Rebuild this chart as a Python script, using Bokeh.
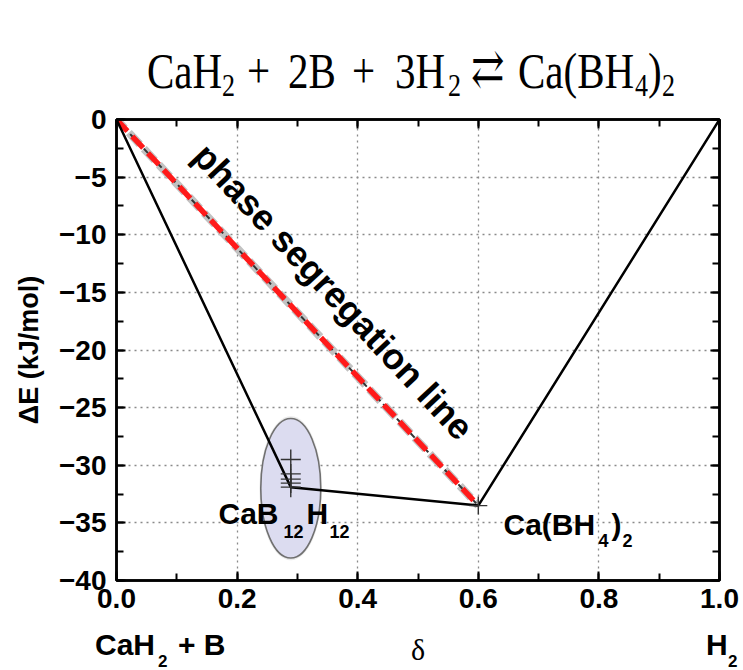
from bokeh.plotting import figure
from bokeh.layouts import column
from bokeh.models import (Range1d, Label, LinearAxis, SingleIntervalTicker, NumeralTickFormatter,
                          CustomJSTickFormatter, Div)
from bokeh.embed import file_html
from bokeh.resources import INLINE

# ---------------- data ----------------
hull_delta = [0.0, 0.289, 0.6, 1.0]
hull_energy = [0.0, -31.9, -33.5, 0.0]

seg_delta = [0.0, 0.6]
seg_energy = [0.0, -33.5]

cab12_delta = [0.289, 0.289, 0.289, 0.289, 0.289]
cab12_energy = [-29.5, -30.75, -31.2, -31.55, -31.9]

cabh4_delta = [0.6]
cabh4_energy = [-33.5]

cluster_delta = [0.289]
cluster_energy = [-32.0]

x_ticks_interval = 0.2
y_ticks_interval = 5

# ---------------- page geometry ----------------
W = 743
HEAD_H = 100          # title strip: page y 0..100
MAIN_H = 525          # main plot:   page y 100..625
FOOT_H = 45           # bottom strip: page y 625..670
FL, FR = 116, 24
FT = 119 - HEAD_H
FB = HEAD_H + MAIN_H - 580
FW = W - FL - FR
FH = MAIN_H - FT - FB


def dx(px):
    return (px - FL) / FW


def dy(py):
    return -(py - 119) * 40.0 / FH


SANS = "Liberation Sans"
SERIF = "Liberation Serif"
K_SERIF = 0.8375   # baseline offset from top of a line box (line-height = 1em)
K_SANS = 0.8465


def span(text, left, baseline, size, y0, font, bold=False, sy=1.0):
    k = K_SANS if font == SANS else K_SERIF
    top = baseline - y0 - k * size
    weight = "bold" if bold else "normal"
    tr = (f"transform:scaleY({sy});transform-origin:0px {k * size:.1f}px;" if sy != 1.0 else "")
    return (f'<span style="position:absolute;left:{left}px;top:{top:.1f}px;'
            f'font-family:\'{font}\',\'DejaVu Serif\';font-size:{size}px;line-height:{size}px;'
            f'font-weight:{weight};color:#000;white-space:nowrap;{tr}">{text}</span>')


def strip(parts, height, y0, sy=1.0):
    inner = "".join(span(*pp[:4], y0, *pp[4:], sy=sy) for pp in parts)
    html = (f'<div style="position:relative;width:{W}px;height:{height}px;margin:0;padding:0;'
            f'overflow:visible;">{inner}</div>')
    return Div(text=html, width=W, height=height, margin=0)


# ---------------- header: reaction equation ----------------
TS, SS = 41, 26
TB, SB = 88, 97
head_parts = [("CaH", 147, TB, TS, SERIF), ("2", 222, SB, SS, SERIF),
              ("+", 247, TB, TS, SERIF), ("2B", 288, TB, TS, SERIF),
              ("+", 352, TB, TS, SERIF), ("3H", 395, TB, TS, SERIF),
              ("2", 448, SB, SS, SERIF), ("&#8644;", 471, TB - 2, 40, SERIF),
              ("Ca(BH", 518, TB, TS, SERIF), ("4", 635, SB, SS, SERIF),
              (")", 648, TB, TS, SERIF), ("2", 662, SB, SS, SERIF)]
head = strip(head_parts, HEAD_H, 0, sy=1.25)

# ---------------- main plot ----------------
p = figure(width=W, height=MAIN_H, output_backend="svg", toolbar_location=None,
           x_range=Range1d(0, 1), y_range=Range1d(-40, 0),
           min_border_left=FL, min_border_right=FR, min_border_top=FT, min_border_bottom=FB,
           background_fill_color="white", border_fill_color="white")

p.outline_line_color = "black"
p.outline_line_width = 2.5

xt = SingleIntervalTicker(interval=x_ticks_interval, num_minor_ticks=2)
yt = SingleIntervalTicker(interval=y_ticks_interval, num_minor_ticks=2)
p.xaxis.ticker = xt
p.yaxis.ticker = yt
p.xaxis.formatter = NumeralTickFormatter(format="0.0")

for ax in (p.xaxis[0], p.yaxis[0]):
    ax.axis_line_width = 2.5
    ax.axis_line_color = "black"
    ax.major_tick_in = 9
    ax.major_tick_out = 0
    ax.minor_tick_in = 7
    ax.minor_tick_out = 0
    ax.major_tick_line_width = 2
    ax.minor_tick_line_width = 2
    ax.major_label_text_font = SANS
    ax.major_label_text_font_style = "bold"
    ax.major_label_text_font_size = "28px"
    ax.major_label_text_color = "black"

p.xaxis.major_label_standoff = 8
p.yaxis.major_label_standoff = 10

p.yaxis.axis_label = "ΔE (kJ/mol)"
p.yaxis.axis_label_text_font = SANS
p.yaxis.axis_label_text_font_style = "bold"
p.yaxis.axis_label_text_font_size = "27px"
p.yaxis.axis_label_text_color = "black"
p.yaxis.axis_label_standoff = 12

for loc, tk in (("above", xt), ("right", yt)):
    a = LinearAxis(ticker=tk, formatter=CustomJSTickFormatter(code="return ''"),
                   major_label_text_font_size="8px", major_label_standoff=0, axis_line_width=2.5,
                   major_tick_in=9, major_tick_out=0, minor_tick_in=7, minor_tick_out=0,
                   major_tick_line_width=2, minor_tick_line_width=2)
    p.add_layout(a, loc)

for g in (p.xgrid[0], p.ygrid[0]):
    g.grid_line_color = "#8a8a8a"
    g.grid_line_dash = "2 4"
    g.grid_line_width = 1.3

# ellipse around the CaB12H12 cluster (soft shadow first)
p.ellipse(cluster_delta, cluster_energy, width=0.104, height=12.5,
          fill_color="#d6d6d6", fill_alpha=0.5, line_color=None)
p.ellipse(cluster_delta, cluster_energy, width=0.0995, height=12.1,
          fill_color="#dcdcf0", line_color="#707070", line_width=1.6)

# phase segregation line: grey shadow, dark dashes, red dashes
p.line(seg_delta, seg_energy, line_color="#c2c2c2", line_width=8, line_dash="16 6", line_dash_offset=4)
p.line(seg_delta, seg_energy, line_color="#333333", line_width=2, line_dash="6 4")
p.line(seg_delta, seg_energy, line_color="#ff1a1a", line_width=5.5, line_dash="16 7")

# convex hull
p.line(hull_delta, hull_energy, line_color="black", line_width=2.5)

# computed structures
p.scatter(cab12_delta, cab12_energy, marker="cross", size=20, line_color="#333333", line_width=1.4)
p.scatter(cabh4_delta, cabh4_energy, marker="cross", size=18, line_color="#333333", line_width=1.4)


def plab(text, px, baseline, size, align="left", angle=0.0, mid=None):
    # text is centred vertically ("middle"); convert a desired baseline to the middle
    ymid = mid if mid is not None else baseline - 0.35 * size
    p.add_layout(Label(x=dx(px), y=dy(ymid), text=text, text_font=SANS, text_font_style="bold",
                       text_font_size=f"{size}px", text_color="black", text_align=align,
                       text_baseline="middle", angle=angle, angle_units="rad"))


plab("phase segregation line", 333, None, 36, align="center", angle=-0.818, mid=291)

plab("CaB", 218, 523, 30)
plab("12", 283, 537, 18)
plab("H", 306, 523, 30)
plab("12", 329, 537, 18)

plab("Ca(BH", 503, 534, 30)
plab("4", 598, 546, 18)
plab(")", 611, 534, 30)
plab("2", 622, 546, 18)

# ---------------- footer: composition end points and delta ----------------
y0 = HEAD_H + MAIN_H
foot_parts = [("CaH", 95, 655, 30, SANS, True), ("2", 158, 667, 17, SANS, True),
              ("+ B", 178, 655, 30, SANS, True), ("&#948;", 411, 660, 30, SERIF, False),
              ("H", 706, 655, 30, SANS, True), ("2", 728, 667, 17, SANS, True)]
foot = strip(foot_parts, FOOT_H, y0)

layout = column(head, p, foot, spacing=0)
open("out.html", "w").write(file_html(layout, INLINE))
